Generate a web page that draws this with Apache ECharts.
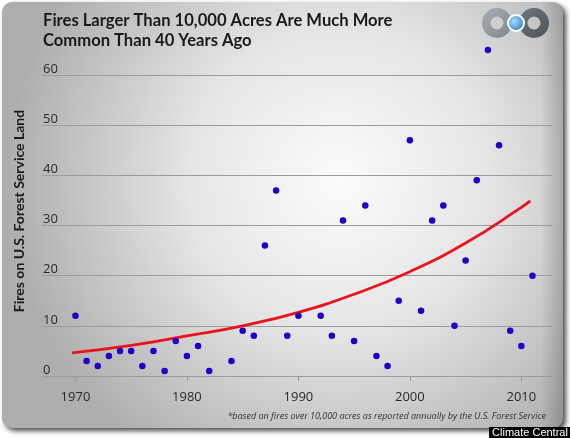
<!DOCTYPE html>
<html>
<head>
<meta charset="utf-8">
<script src="https://cdn.jsdelivr.net/npm/echarts@6/dist/echarts.min.js"></script>
<style>
html,body{margin:0;padding:0;background:#fff;}
#chart{width:570px;height:438px;}
</style>
</head>
<body>
<div id="chart"></div>
<script>
// ---- data ----
const years = [1970,1971,1972,1973,1974,1975,1976,1977,1978,1979,1980,1981,1982,1984,1985,1986,1987,1988,1989,1990,1992,1993,1994,1995,1996,1997,1998,1999,2000,2001,2002,2003,2004,2005,2006,2007,2008,2009,2010,2011];
const fires = [12,3,2,4,5,5,2,5,1,7,4,6,1,3,9,8,26,37,8,12,12,8,31,7,34,4,2,15,47,13,31,34,10,23,39,65,46,9,6,20];
const trendYears = [1969.7,1975,1980,1985,1990,1995,2000,2005,2010,2010.8];
const trendValues = [4.6,6.1,8.0,10.0,12.7,16.3,20.8,26.5,33.6,34.9];
const xTicks = [1970,1980,1990,2000,2010];
const titleLines = ['Fires Larger Than 10,000 Acres Are Much More','Common Than 40 Years Ago'];
const yTitle = 'Fires on U.S. Forest Service Land';
const footnote = '*based on fires over 10,000 acres as reported annually by the U.S. Forest Service';
const credit = 'Climate Central';

const chart = echarts.init(document.getElementById('chart'), null, {renderer:'canvas'});
const option = {
  animation:false,
  backgroundColor:'#ffffff',
  grid:{left:42,right:18,top:75,bottom:62},
  xAxis:{
    type:'value', min:1967, max:2012.75, offset:3,
    axisLine:{show:false},
    splitLine:{show:false},
    axisTick:{show:true, length:5, customValues:xTicks, lineStyle:{color:'#999',width:1}},
    axisLabel:{customValues:xTicks, margin:12, fontSize:13, color:'#2a2a2a', fontFamily:'Open Sans', formatter:v=>String(v)}
  },
  yAxis:{
    type:'value', min:0, max:60, interval:10,
    axisLine:{show:false}, axisTick:{show:false},
    splitLine:{show:true, lineStyle:{color:'#9c9c9c', width:1}},
    axisLabel:{inside:true, margin:1, verticalAlign:'bottom', align:'left', lineHeight:12, fontSize:13, color:'#2a2a2a', fontFamily:'Open Sans'}
  },
  series:[
    {
      type:'line', data:trendYears.map((y,i)=>[y,trendValues[i]]), smooth:true, showSymbol:false,
      lineStyle:{color:'#e8141c', width:2.8}, z:3, clip:false
    },
    {
      type:'scatter', data:years.map((y,i)=>[y,fires[i]]), symbolSize:6.5, clip:false,
      itemStyle:{color:'#1c00c8', opacity:1}, z:4
    }
  ],
  graphic:[
    {type:'rect', z:-20, shape:{x:2,y:2,width:561,height:426,r:10},
      style:{fill:{type:'radial',x:0.6,y:0.42,r:0.78,colorStops:[{offset:0,color:'#fbfbfb'},{offset:0.45,color:'#e6e6e6'},{offset:1,color:'#aeaeae'}]},
        shadowBlur:5, shadowOffsetX:3, shadowOffsetY:3, shadowColor:'rgba(0,0,0,0.7)'}},
    {type:'rect', z:-19, shape:{x:2,y:2,width:561,height:426,r:10},
      style:{fill:{type:'linear',x:0,y:0,x2:1,y2:0,colorStops:[{offset:0,color:'rgba(0,0,0,0)'},{offset:0.96,color:'rgba(0,0,0,0)'},{offset:1,color:'rgba(0,0,0,0.18)'}]}}},
    // logo
    {type:'ring', z:10, shape:{cx:497,cy:23,r:15,r0:6.5}, style:{fill:{type:'linear',x:0,y:0,x2:1,y2:1,colorStops:[{offset:0,color:'#a9aeb2'},{offset:1,color:'#7f878d'}]}}},
    {type:'ring', z:10, shape:{cx:534,cy:23,r:15,r0:6.5}, style:{fill:{type:'linear',x:0,y:0,x2:1,y2:1,colorStops:[{offset:0,color:'#6d767c'},{offset:1,color:'#4d555b'}]}}},
    {type:'circle', z:11, shape:{cx:516,cy:23,r:8}, style:{fill:{type:'radial',x:0.4,y:0.4,r:0.7,colorStops:[{offset:0,color:'#a8dcff'},{offset:1,color:'#1a6fc4'}]}, stroke:'#ffffff', lineWidth:2}},
    // titles
    {type:'text', z:20, x:43, y:11, style:{text:titleLines.join('\n'), font:'bold 16.6px Lato', lineHeight:19.5, fill:'#1a1a1a'}},
    {type:'text', z:20, x:19, y:211, rotation:Math.PI/2, style:{text:yTitle, font:'bold 14px Lato', fill:'#1a1a1a', align:'center', verticalAlign:'middle'}},
    {type:'text', z:20, x:546, y:416, style:{text:footnote, font:'italic 9px "Open Sans"', fill:'#333', align:'right', verticalAlign:'middle'}},
    {type:'rect', z:30, shape:{x:489,y:427,width:81,height:11}, style:{fill:'#000'}},
    {type:'text', z:31, x:530, y:433, style:{text:credit, font:'11px "Liberation Sans"', fill:'#fff', align:'center', verticalAlign:'middle'}}
  ]
};
chart.setOption(option);
</script>
</body>
</html>
